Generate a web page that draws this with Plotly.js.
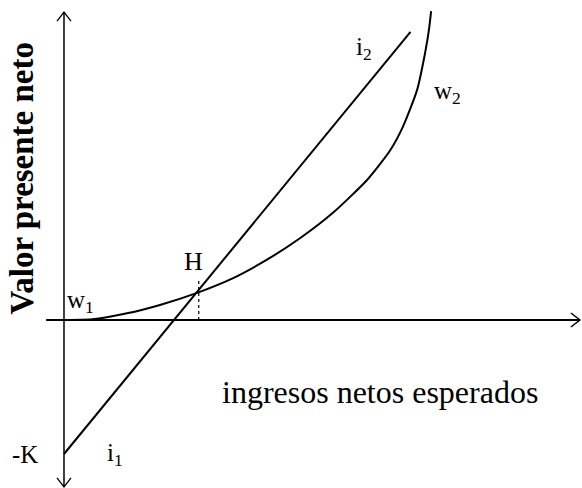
<!DOCTYPE html>
<html>
<head>
<meta charset="utf-8">
<script src="https://cdn.plot.ly/plotly-3.0.1.min.js"></script>
<style>
  html, body { margin: 0; padding: 0; background: #fff; }
  #chart { width: 582px; height: 488px; }
</style>
</head>
<body>
<div id="chart"></div>
<script>
// Investment line i: starts at -K (initial outlay) and rises with expected net income
const lineX = [0, 12.6];
const lineY = [-4, 8.6];

// Curve w: convex NPV path, flat near w1 and turning vertical near w2
const curveX = [0, 1.02, 2.29, 3.49, 4.84, 6.15, 7.38, 8.58, 9.78, 11.02, 11.85, 12.33, 12.84, 13.13, 13.27, 13.35];
const curveY = [0, 0.02, 0.2, 0.45, 0.81, 1.25, 1.8, 2.44, 3.2, 4.18, 5.05, 5.78, 6.87, 7.97, 8.66, 9.22];

// Crossing point H of line and curve
const hX = 4.9;
const hY = 0.85;

// Axis extent and labels
const xAxisEnd = 18.76;
const yAxisTop = 9.19;
const yAxisBottom = -4.98;
const kValue = -4;
const xTitle = 'ingresos netos esperados';
const yTitle = 'Valor presente neto';

const W = 582, H = 488;
const xRange = [-2.327, 18.836];
const yRange = [-5.015, 9.552];
const pxX = (xRange[1] - xRange[0]) / W;   // data units per pixel
const pxY = (yRange[1] - yRange[0]) / H;

const serif = 'Liberation Serif, Times New Roman, serif';

function arrowPath(tx, ty, dx, dy) {
  // open chevron tip at (tx,ty), pointing along (dx,dy) in pixel space
  const len = 9, half = 7;
  const bx = -dx * len, by = -dy * len;
  const nx = -dy * half, ny = dx * half;
  const p1 = [tx + (bx + nx) * pxX, ty - (by + ny) * pxY];
  const p2 = [tx + (bx - nx) * pxX, ty - (by - ny) * pxY];
  return `M${p1[0]},${p1[1]} L${tx},${ty} L${p2[0]},${p2[1]}`;
}

const traces = [
  {
    x: lineX, y: lineY, mode: 'lines', type: 'scatter',
    line: { color: '#000', width: 2 }, hoverinfo: 'skip'
  },
  {
    x: curveX, y: curveY, mode: 'lines', type: 'scatter',
    line: { color: '#000', width: 2, shape: 'spline', smoothing: 0.6 }, hoverinfo: 'skip'
  }
];

const shapes = [
  // horizontal axis
  { type: 'line', xref: 'x', yref: 'y', x0: -0.65, x1: xAxisEnd, y0: 0, y1: 0,
    line: { color: '#000', width: 2.2 } },
  // vertical axis
  { type: 'line', xref: 'x', yref: 'y', x0: 0, x1: 0, y0: yAxisBottom, y1: yAxisTop,
    line: { color: '#000', width: 1.5 } },
  // arrow heads
  { type: 'path', xref: 'x', yref: 'y', path: arrowPath(xAxisEnd, 0, 1, 0),
    line: { color: '#000', width: 1.5 } },
  { type: 'path', xref: 'x', yref: 'y', path: arrowPath(0, yAxisTop, 0, -1),
    line: { color: '#000', width: 1.3 } },
  { type: 'path', xref: 'x', yref: 'y', path: arrowPath(0, yAxisBottom, 0, 1),
    line: { color: '#000', width: 1.3 } },
  // dotted drop from H
  { type: 'line', xref: 'x', yref: 'y', x0: hX, x1: hX, y0: 0, y1: hY + 0.35,
    line: { color: '#000', width: 1.2, dash: 'dot' } }
];

function label(text, x, y, size, extra) {
  return Object.assign({
    text: text, x: x, y: y, xref: 'x', yref: 'y', showarrow: false,
    xanchor: 'center', yanchor: 'middle',
    font: { family: serif, size: size, color: '#000' }
  }, extra || {});
}

const annotations = [
  label(yTitle, -1.53, 4.25, 33, { textangle: -90, font: { family: serif, size: 33, color: '#000', weight: 'bold' } }),
  label(xTitle, 11.5, -2.15, 32),
  label('H', 4.7, 1.75, 26),
  label('w<sub>1</sub>', 0.6, 0.55, 25),
  label('i<sub>2</sub>', 10.9, 8.1, 25),
  label('w<sub>2</sub>', 13.95, 6.8, 25),
  label('i<sub>1</sub>', 1.85, kValue, 25),
  label('-K', -1.4, kValue, 25)
];

const layout = {
  width: W, height: H,
  margin: { l: 0, r: 0, t: 0, b: 0 },
  paper_bgcolor: '#fff', plot_bgcolor: '#fff',
  showlegend: false,
  xaxis: { range: xRange, visible: false, fixedrange: true },
  yaxis: { range: yRange, visible: false, fixedrange: true },
  shapes: shapes,
  annotations: annotations
};

Plotly.newPlot('chart', traces, layout, { staticPlot: true, displayModeBar: false });
</script>
</body>
</html>
